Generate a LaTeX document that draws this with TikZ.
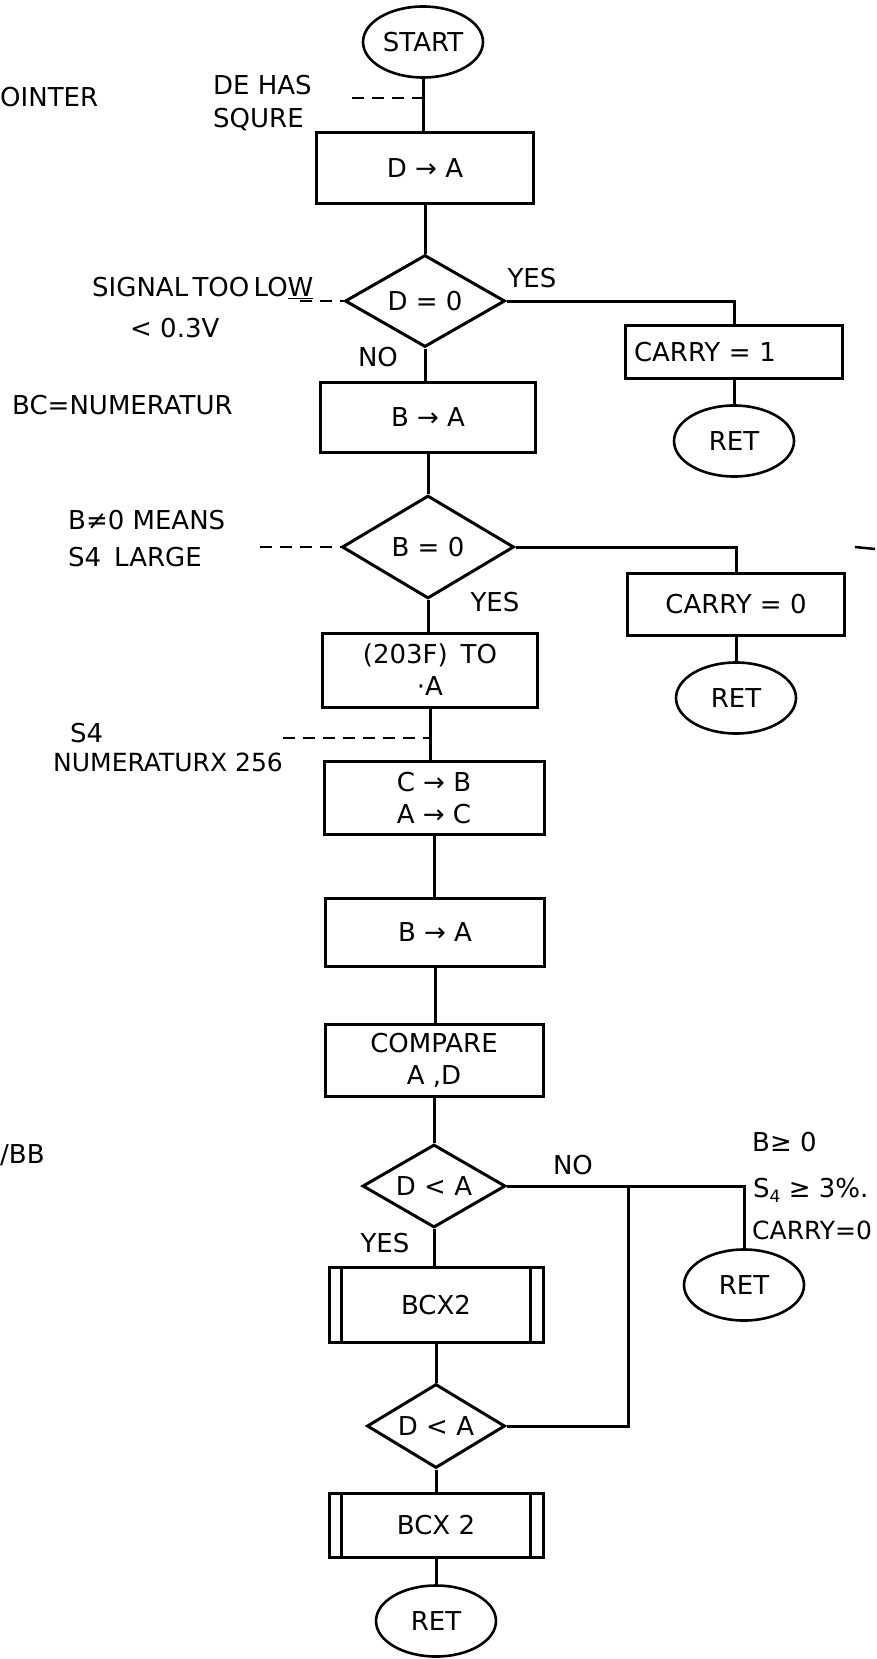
\documentclass[tikz,border=0pt]{standalone}
\usepackage{fontspec}
\setmainfont{DejaVu Sans}
\usetikzlibrary{shapes.geometric}
\begin{document}
\begin{tikzpicture}[x=1pt,y=-1pt,
  every node/.style={font=\fontsize{26}{32}\selectfont},
  ln/.style={line width=3pt},
  procbox/.style={draw,line width=3pt,rectangle,inner sep=0pt,align=center},
  decbox/.style={draw,line width=3pt,diamond,inner sep=0pt,aspect=1.7},
  termbox/.style={draw,line width=2.6pt,ellipse,inner sep=0pt,minimum width=120pt,minimum height=71pt},
  note/.style={anchor=west,inner sep=0pt},
  lbl/.style={inner sep=0pt},
  dashln/.style={line width=2.6pt,dash pattern=on 12pt off 8pt},
]
\useasboundingbox (0,0) rectangle (877,1659);

% main column
\node[termbox] (start) at (423,42) {START};
\node[procbox,minimum width=217pt,minimum height=70pt] (b1) at (425,168) {D → A};
\node[decbox,minimum width=160pt,minimum height=92pt] (d1) at (425,301) {D = 0};
\node[procbox,minimum width=215pt,minimum height=70pt] (b2) at (428,417) {B → A};
\node[decbox,minimum width=172pt,minimum height=103pt] (d2) at (428,547) {B = 0};
\node[procbox,minimum width=215pt,minimum height=74pt] (b3) at (430,670) {(203F)\enspace TO\\·A};
\node[procbox,minimum width=220pt,minimum height=73pt] (b4) at (434,798) {C → B\\A → C};
\node[procbox,minimum width=219pt,minimum height=68pt] (b5) at (435,932) {B → A};
\node[procbox,minimum width=218pt,minimum height=72pt] (b6) at (434,1060) {COMPARE\\A ,D};
\node[decbox,minimum width=143pt,minimum height=83pt] (d3) at (434,1186) {D < A};
\node[procbox,minimum width=214pt,minimum height=75pt] (b7) at (436,1305) {BCX2};
\node[decbox,minimum width=138pt,minimum height=84pt] (d4) at (436,1426) {D < A};
\node[procbox,minimum width=214pt,minimum height=64pt] (b8) at (436,1525) {BCX 2};
\node[termbox] (r1) at (436,1621) {RET};

\draw[ln] ([xshift=14pt]b7.north west) -- ([xshift=14pt]b7.south west);
\draw[ln] ([xshift=-14pt]b7.north east) -- ([xshift=-14pt]b7.south east);
\draw[ln] ([xshift=14pt]b8.north west) -- ([xshift=14pt]b8.south west);
\draw[ln] ([xshift=-14pt]b8.north east) -- ([xshift=-14pt]b8.south east);

% right column
\node[procbox,minimum width=217pt,minimum height=53pt,text width=200pt,align=left] (c1) at (734,352) {CARRY = 1};
\node[termbox] (r2) at (734,441) {RET};
\node[procbox,minimum width=217pt,minimum height=62pt] (c0) at (736,604) {CARRY = 0};
\node[termbox] (r3) at (736,698) {RET};
\node[termbox] (r4) at (744,1285) {RET};

% connectors
\draw[ln] (start.south) -- (start.south |- b1.north);
\draw[ln] (b1.south) -- (d1.north);
\draw[ln] (d1.south) -- (d1.south |- b2.north);
\draw[ln] (b2.south) -- (d2.north);
\draw[ln] (d2.south) -- (d2.south |- b3.north);
\draw[ln] (b3.south) -- (b3.south |- b4.north);
\draw[ln] (b4.south) -- (b4.south |- b5.north);
\draw[ln] (b5.south) -- (b5.south |- b6.north);
\draw[ln] (b6.south) -- (d3.north);
\draw[ln] (d3.south) -- (d3.south |- b7.north);
\draw[ln] (b7.south) -- (d4.north);
\draw[ln] (d4.south) -- (d4.south |- b8.north);
\draw[ln] (b8.south) -- (r1.north);

\draw[ln] (d1.east) -| (c1.north);
\draw[ln] (c1.south) -- (r2.north);
\draw[ln] (d2.east) -| (c0.north);
\draw[ln] (c0.south) -- (r3.north);
\draw[ln] (d3.east) -| (r4.north);
\coordinate (j) at (628,1186);
\draw[ln] (d4.east) -| (j);

% branch labels
\node[lbl] (yes1) at (532,278) {YES};
\node[lbl] (no1) at (378,357) {NO};
\node[lbl] (yes2) at (495,602) {YES};
\node[lbl] (no3) at (573,1165) {NO};
\node[lbl] (yes3) at (385,1243) {YES};

% side notes
\node[note] (t1) at (0,97) {OINTER};
\node[note] (t2) at (213,85) {DE HAS};
\node[note] (t3) at (213,120) {SQURE};
\node[note] (t4) at (92,288) {SIGNAL\,TOO\,LO\underline{W}};
\node[note] (t5) at (130,328) {< 0.3V};
\node[note] (t6) at (12,405) {BC=NUMERATUR};
\node[note] (t7) at (68,520) {B≠0 MEANS};
\node[note] (t8) at (68,557) {S4\enspace LARGE};
\node[note] (t9) at (70,733) {S4};
\node[note,font=\fontsize{25}{28}\selectfont] (t10) at (53,762) {NUMERATURX 256};
\node[note] (t11) at (0,1155) {/BB};
\node[note] (t12) at (752,1142) {B≥ 0};
\node[note] (t13) at (753,1190) {S\raisebox{-0.35ex}{\fontsize{17}{20}\selectfont 4} ≥ 3\%.};
\node[note,font=\fontsize{25}{28}\selectfont] (t14) at (752,1230) {CARRY=0};

% dashed leaders
\coordinate (n1) at (352,98);
\draw[dashln] (n1) -- (n1 -| start.south);
\coordinate (n2) at (300,301);
\draw[dashln] (n2) -- (d1.west);
\coordinate (n3) at (260,547);
\draw[dashln] (n3) -- (d2.west);
\coordinate (n4) at (283,738);
\draw[dashln] (n4) -- (n4 -| b3.south);

% stray mark at right edge
\draw[line width=2.5pt] (855,547) -- (875,549);
\end{tikzpicture}
\end{document}
